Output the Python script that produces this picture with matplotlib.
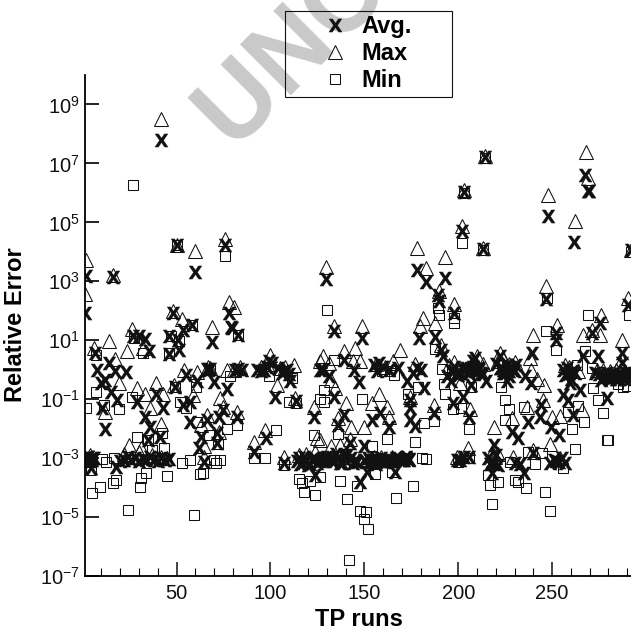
"""
Relative error of the TP runs: average, maximum and minimum per run.
Values are read off the published figure and kept as log10 of the error.
"""

import numpy as np
import matplotlib
matplotlib.use('Agg')
import matplotlib.pyplot as plt
from matplotlib.patches import Rectangle

avg_runs = [42, 2, 1, 16, 50, 60, 76, 48, 78, 79,
            83, 53.5, 58, 46, 51, 46, 51.5, 30, 27, 33,
            35.5, 6.5, 7.5, 9.6, 14, 12, 17.5, 23, 18.4, 10.5,
            12, 15, 28.7, 33, 36, 39, 43, 35, 41, 49,
            55, 61, 70, 77, 69, 79.6, 57, 62.8, 62, 57.4,
            53.5, 66, 72.5, 75, 82, 71.6, 71.6, 64.5, 4, 4.3,
            18, 91, 97.4, 107, 102.7, 113.8, 123, 96.5, 101, 107,
            110.6, 126.6, 124, 134, 148.8, 179, 187.8, 128, 139, 144.3,
            147, 131, 133.6, 139.4, 135.8, 157.6, 168, 172.8, 181.6, 180,
            154, 158.5, 163, 174.5, 174.5, 174.5, 177, 187, 192, 191,
            200, 196, 202.7, 197, 206, 206.7, 209, 210, 215, 222.3,
            224, 226.8, 231, 226, 235.6, 239, 239.5, 252, 252, 271,
            275.5, 274.6, 266.7, 257, 259.6, 265, 256, 258.7, 261, 237,
            244, 243.6, 249.5, 253.7, 228.5, 231.6, 218.8, 218, 218, 240,
            230, 234.8, 249, 253.4, 205.5, 199.6, 142.5, 149.6, 147.9, 151.4,
            166.5, 137, 127, 155, 158.5, 162, 169, 173.6, 132, 135,
            141, 146, 279, 287, 287, 290, 273, 267.6, 269.3, 269.8,
            247.7, 261.7, 202, 203, 214, 213, 178, 183, 192.7, 129.8,
            247, 189, 190, 198, 290.6, 292, 2, 3, 4, 5,
            6, 20, 22, 24, 26, 28, 30, 32, 34, 36,
            38, 40, 42, 44, 46, 114, 116, 118, 120, 122,
            125, 129, 134, 139, 144, 153, 156, 160, 164, 167,
            171, 172, 66, 67, 68, 81, 83, 85, 93, 95,
            98, 99, 104, 106, 109, 110, 155, 157, 160, 163,
            176, 178, 194, 196, 199, 203, 205, 207, 208, 209,
            211, 212, 220, 222, 225, 228, 230, 256, 258, 260,
            262, 276, 278, 280, 281, 282, 283, 284, 285, 286,
            288, 289, 291, 201, 203, 216, 217, 220, 221, 233,
            251, 252, 255, 257]
avg_exp = [7.81, 3.17, 1.92, 3.13, 4.24, 3.31, 4.24, 1.94, 1.92, 1.46,
           1.19, 1.36, 1.53, 1.13, 1.02, 0.54, 0.68, 1.13, 1.13, 1.05,
           0.65, 0.56, 0.0, -0.46, 0.22, -0.34, -0.06, -0.09, -1.02, -1.3,
           -2.0, -0.74, -1.08, -1.6, -1.93, -0.82, -1.3, -2.38, -2.29, -0.57,
           -0.17, -0.4, -0.43, -0.66, 0.95, 1.41, -1.76, -2.27, -2.66, -1.08,
           -1.19, -1.7, -1.59, -1.36, -1.59, -2.15, -2.49, -3.12, -3.06, -3.34,
           -3.29, -2.78, -2.32, -3.15, -0.91, -1.06, -1.61, 0.0, 0.22, -0.06,
           -0.4, 0.0, -3.57, 1.3, 1.07, 1.07, 1.1, 0.0, 0.34, 0.0,
           -0.43, -0.23, -0.91, -1.53, -1.87, 0.22, 0.05, -0.4, -0.63, 0.0,
           -1.7, -1.48, -1.93, -1.02, -1.3, -1.7, -1.9, -1.48, 0.45, 0.68,
           -0.17, -0.4, -0.91, -1.14, -1.59, -0.51, 0.39, 0.0, -0.4, 0.45,
           0.0, -0.23, 0.17, -0.4, -0.23, -0.46, 0.56, 1.24, 1.02, 1.24,
           1.58, 0.45, 0.45, -0.17, -0.46, -0.68, -0.85, -1.02, -1.53, -1.76,
           -1.19, -1.59, -1.95, -2.21, -2.1, -2.32, -2.55, -3.12, -3.51, -2.83,
           -3.17, -3.51, -3.17, -3.12, -2.95, -3.06, -2.5, -2.6, -3.8, -3.46,
           -3.46, -3.17, -3.06, -3.06, -3.06, -3.06, -3.06, -3.03, -2.95, -2.85,
           -2.9, -3.12, -0.97, 0.56, 0.22, -0.23, -0.12, 6.62, 6.06, 6.08,
           5.2, 4.32, 4.7, 6.03, 7.22, 4.1, 3.39, 2.96, 3.11, 3.08,
           2.41, 2.54, 2.32, 1.92, 2.2, 4.07, -3.0, -2.95, -3.1, -3.05,
           -3.0, -3.1, -3.05, -2.95, -3.05, -3.0, -3.1, -3.02, -3.08, -2.95,
           -3.05, -3.1, -3.0, -3.08, -3.02, -3.1, -3.2, -2.95, -3.25, -3.05,
           -3.15, -3.0, -3.1, -2.9, -3.15, -3.1, -3.2, -3.05, -3.1, -3.0,
           -3.08, -3.0, 0.02, -0.02, 0.03, 0.0, 0.02, -0.02, 0.0, -0.05,
           0.1, 0.3, 0.05, -0.1, 0.0, -0.15, 0.15, -0.05, 0.1, -0.02,
           -0.1, 0.05, -0.2, -0.05, -0.15, 0.0, -0.05, 0.02, 0.3, -0.05,
           0.0, -0.1, 0.2, 0.05, -0.1, 0.1, -0.05, 0.0, -0.15, -0.3,
           -0.1, -0.35, -0.25, -0.2, -0.3, -0.15, -0.25, -0.3, -0.2, -0.15,
           -0.25, -0.1, -0.3, -3.05, -2.95, -3.0, -3.2, -2.9, -3.25, -3.2,
           -3.05, -3.1, -3.0, -3.15]

# runs packed into the dark clusters at about 1e-3 and 1
avg_dense_runs = [115, 117, 119, 121, 123, 126, 128, 130, 133, 136,
                  138, 140, 143, 145, 150, 152, 154, 156, 158, 159,
                  161, 163, 165, 168, 170, 172, 174, 204, 206, 208,
                  210, 211, 213, 223, 224, 226, 227, 229, 275, 277,
                  279, 281, 283, 285, 287, 289, 290, 292, 258, 259,
                  261, 197, 198, 201, 202, 218, 219, 3, 5, 2]
avg_dense_exp = [-3.0, -3.15, -3.05, -3.2, -3.0, -3.1, -3.05, -2.95, -3.1, -3.0,
                 -3.15, -3.05, -3.0, -3.1, -3.05, -3.0, -3.12, -3.02, -3.1, -3.0,
                 -3.12, -3.05, -3.1, -3.0, -3.08, -2.95, -3.05, 0.05, -0.1, 0.1,
                 -0.05, 0.05, -0.15, 0.05, -0.1, 0.15, -0.05, 0.0, -0.15, -0.25,
                 -0.1, -0.25, -0.15, -0.3, -0.2, -0.3, -0.15, -0.25, 0.05, -0.1,
                 -0.05, -0.05, 0.1, -0.1, 0.05, -3.1, -3.2, -2.95, -3.0, -3.05]

max_runs = [42, 2, 1, 16, 50, 60, 76, 48, 53, 78,
            80.5, 268, 269.3, 248, 262, 202, 203, 214, 213, 178,
            183, 193, 129.5, 292, 247, 189.5, 198, 290.6, 276, 181,
            6, 14, 23.4, 26.4, 32, 69, 17, 19.3, 29, 33,
            39, 43, 12, 36, 41.5, 24.6, 30.9, 54, 61, 77,
            80.5, 100, 112.4, 103.5, 113.3, 123, 126.6, 48.6, 59, 73,
            75, 82, 66, 63, 72.5, 97, 91, 107, 64.5, 125,
            45, 64.5, 134, 148.7, 179.8, 187.8, 190.8, 240, 252.5, 266.5,
            271, 275.5, 287, 139, 145, 169, 128, 144, 147.5, 131,
            165.5, 132, 134.5, 158, 154, 162, 140, 136, 143, 150,
            163, 174.5, 187, 201, 206.2, 218.8, 228.5, 236.5, 245, 250,
            254, 266, 245.7, 238, 238.6, 242, 222, 264, 273.8, 286,
            249, 240, 229.4, 219.7, 205, 199.6, 142.2, 137.2, 132, 126.6,
            254, 155, 159, 165, 170, 4, 22, 30, 37, 42,
            115, 119, 124, 67, 68, 84, 95, 98, 105, 108,
            156, 161, 177, 195, 198, 208, 210, 213, 221, 224,
            227, 230, 257, 259, 277, 281, 284, 289, 218, 221]
max_exp = [8.51, 3.73, 2.58, 3.22, 4.24, 4.02, 4.44, 1.98, 1.72, 2.3,
           2.13, 7.38, 6.5, 5.94, 5.05, 4.87, 6.11, 7.24, 4.13, 4.13,
           3.45, 3.82, 3.5, 4.07, 2.85, 2.66, 2.24, 2.43, 1.86, 1.75,
           0.73, 0.96, 0.62, 1.38, 0.73, 1.45, 0.36, -0.46, -0.63, -0.82,
           -0.46, -0.82, -1.42, -1.3, -1.84, -2.55, -2.66, 0.0, -0.09, 0.0,
           0.0, 0.51, 0.17, -0.51, -0.97, -1.25, 0.28, -0.51, -0.85, -0.97,
           -1.25, -1.42, -1.53, -1.87, -2.1, -2.04, -2.47, -2.95, -2.6, -2.32,
           -3.0, -2.95, 1.47, 1.47, 1.47, 1.6, 0.85, 1.19, 1.53, 1.19,
           1.36, 1.19, 1.02, 0.62, 0.73, 0.68, 0.45, 0.28, 0.28, 0.22,
           0.28, -0.34, -0.63, -0.82, -1.14, -1.25, -1.14, -1.65, -1.95, -1.95,
           -1.59, -0.91, -1.19, -0.46, -1.34, -1.93, -1.65, -1.27, -1.02, -1.59,
           -1.57, -1.36, -0.51, 0.39, 0.0, -0.32, 0.56, -0.06, 0.0, 0.22,
           -2.52, -2.72, -2.95, -2.95, -2.66, -2.95, -2.36, -2.55, -2.6, -2.38,
           -3.0, -2.95, -2.95, -2.95, -2.95, -2.9, -2.85, -2.8, -2.9, -2.95,
           -2.9, -2.85, -2.8, 0.08, 0.05, 0.08, 0.1, 0.2, 0.05, 0.1,
           0.2, 0.1, 0.2, 0.15, 0.25, 0.3, 0.45, 0.2, 0.3, 0.4,
           0.2, 0.25, 0.15, 0.1, 0.0, -0.05, 0.0, -0.05, -2.8, -2.85]

min_runs = [27, 50, 76, 130, 202, 203, 214, 213, 247.5, 189,
            269.3, 291, 292, 189.5, 198, 2, 7, 11.3, 19.3, 26.4,
            7, 32, 27.3, 46, 46.8, 51.2, 58.3, 83, 5.1, 9,
            16.3, 18, 24.1, 30.3, 31.2, 33.5, 45, 59.2, 62.4, 64.2,
            1.2, 10.5, 4.3, 12.2, 16.7, 29, 35, 37, 43.3, 42.4,
            53, 57, 70, 71, 73.4, 72, 77, 82.3, 67.2, 61,
            54.8, 51.6, 60.6, 49, 78.7, 68, 91, 97, 107, 103,
            109.8, 113.8, 99, 111.5, 123, 126.6, 115, 116.8, 118, 121.3,
            124, 126.6, 137.2, 146, 141, 147.9, 151, 150, 152, 142,
            167, 175.9, 155.9, 164.7, 154, 162, 177, 180.7, 183, 182,
            187, 149, 128.4, 128.7, 133.7, 135.8, 159.4, 163.8, 166, 173,
            178.5, 187.8, 191.3, 193, 192.6, 197, 201.4, 206, 200, 205.5,
            207, 217, 221, 218, 216, 223, 225, 226.8, 225, 234.8,
            227.7, 230, 232, 236, 237.4, 241, 244.5, 246, 249, 247,
            252, 267.5, 263, 271, 256, 262, 260.8, 267, 258.7, 264,
            277, 274.6, 272, 279, 280, 198, 290, 285, 288]
min_exp = [6.28, 4.24, 3.87, 2.03, 4.3, 6.0, 7.2, 4.07, 2.43, 2.09,
           1.87, 1.87, 4.0, 1.87, 1.75, -1.31, -0.74, -1.19, -1.34, -0.91,
           0.5, 0.56, 1.07, 0.56, 1.13, 0.96, 1.53, 1.19, -4.17, -3.99,
           -3.85, -3.74, -4.76, -3.97, -3.66, -3.51, -3.59, -4.93, -3.55, -3.49,
           -3.12, -3.03, -3.4, -3.12, -3.0, -2.3, -2.38, -2.74, -2.64, -2.16,
           -3.15, -3.08, -3.06, -3.17, -3.06, -2.52, -2.02, -1.87, -2.21, -1.76,
           -1.31, -1.1, -0.57, -0.57, -0.23, 0.0, -3.0, -3.0, -3.23, -2.04,
           -1.11, -1.14, -0.23, -0.29, -2.21, -1.0, -3.72, -3.85, -4.14, -3.76,
           -4.25, -3.63, -3.76, -3.94, -4.4, -4.79, -4.84, -5.08, -5.42, -6.46,
           -4.36, -3.94, -3.54, -3.46, -2.6, -2.35, -2.47, -3.0, -3.04, -1.82,
           -1.74, -0.99, -1.08, -0.68, 0.34, -2.18, -0.06, -0.04, -0.17, -0.82,
           -0.59, 0.7, 0.02, -0.82, -0.48, -1.34, -1.31, -2.02, -3.12, -3.0,
           -0.57, -3.91, -3.82, -4.57, -3.57, -0.57, -1.02, -1.34, -1.7, -1.27,
           -3.12, -3.74, -3.82, -4.0, -2.78, -3.2, -2.83, -4.14, -4.79, 1.3,
           0.68, 0.62, 0.17, 0.05, -3.34, -2.69, -2.01, -1.78, -1.42, -1.23,
           -1.48, -1.02, -0.63, -2.4, -2.4, 1.6, -0.55, -0.5, -0.6]

x_major = [50, 100, 150, 200, 250]
y_major = [1e-7, 1e-5, 1e-3, 1e-1, 1e1, 1e3, 1e5, 1e7, 1e9]
y_labels = ['$10^{-7}$', '$10^{-5}$', '$10^{-3}$', '$10^{-1}$', '$10^{1}$',
            '$10^{3}$', '$10^{5}$', '$10^{7}$', '$10^{9}$']

plt.rcParams['font.family'] = ['Liberation Sans', 'DejaVu Sans']
plt.rcParams['mathtext.default'] = 'regular'

fig = plt.figure(figsize=(6.31, 6.31), dpi=100)
ax = fig.add_axes([84.5 / 631, 55 / 631, 546.5 / 631, 501 / 631])
ax.patch.set_alpha(0)

# watermark runs off the top of the page
fig.text(0.342, 0.788, 'UNCORRECTED PROOF', color='#c9c9c9', fontsize=74,
         fontweight='bold', rotation=45, rotation_mode='anchor',
         ha='left', va='center', zorder=-1)

x_mark = r'$\mathbf{X}$'
ax.semilogy(avg_runs + avg_dense_runs,
            10.0 ** np.array(avg_exp + avg_dense_exp), ls='none',
            marker=x_mark, ms=9.5, mew=0.2, color='#111111', label='Avg.')
ax.semilogy(max_runs, 10.0 ** np.array(max_exp), ls='none', marker='^',
            ms=9.5, mew=0.75, mfc='none', color='#111111', label='Max')
ax.semilogy(min_runs, 10.0 ** np.array(min_exp), ls='none', marker='s',
            ms=7.5, mew=0.75, mfc='none', color='#111111', label='Min')

ax.set_xlim(1, 292)
ax.set_ylim(1e-7, 1e10)
ax.spines['top'].set_visible(False)
ax.spines['right'].set_visible(False)
ax.spines['left'].set_linewidth(1.3)
ax.spines['bottom'].set_linewidth(1.3)

ax.set_xticks(x_major)
ax.set_xticks(np.arange(10, 292, 10), minor=True)
ax.set_yticks(y_major)
ax.set_yticklabels(y_labels)
ax.yaxis.set_minor_locator(matplotlib.ticker.NullLocator())
ax.tick_params(axis='both', which='major', direction='in', length=10,
               width=1.1, labelsize=14.5, colors='#111111')
ax.tick_params(axis='y', which='major', width=1.3)
ax.tick_params(axis='x', which='major', pad=6)
ax.tick_params(axis='x', which='minor', direction='in', length=5.5, width=0.8)

ax.set_xlabel('TP runs', fontsize=17, fontweight='bold')
ax.set_ylabel('Relative Error', fontsize=17, fontweight='bold')
ax.xaxis.set_label_coords((359 - 84.5) / 546.5, -0.064, transform=ax.transAxes)
ax.yaxis.set_label_coords(-0.105, (576 - 325) / 501, transform=ax.transAxes)

# legend box is only an outline, the watermark shows through it
fig.add_artist(Rectangle((284.5 / 631, 1 - 96.5 / 631), 167 / 631, 85 / 631,
                         transform=fig.transFigure, fill=False,
                         edgecolor='#111111', linewidth=0.8))
fig.legend(loc='upper left', numpoints=1,
           bbox_to_anchor=(315 / 631, 1 - 15 / 631),
           bbox_transform=fig.transFigure, borderaxespad=0, borderpad=0,
           frameon=False, handlelength=1.7, handletextpad=0.25,
           labelspacing=0.17, prop={'weight': 'bold', 'size': 17})

fig.savefig('out.png', dpi=100)
